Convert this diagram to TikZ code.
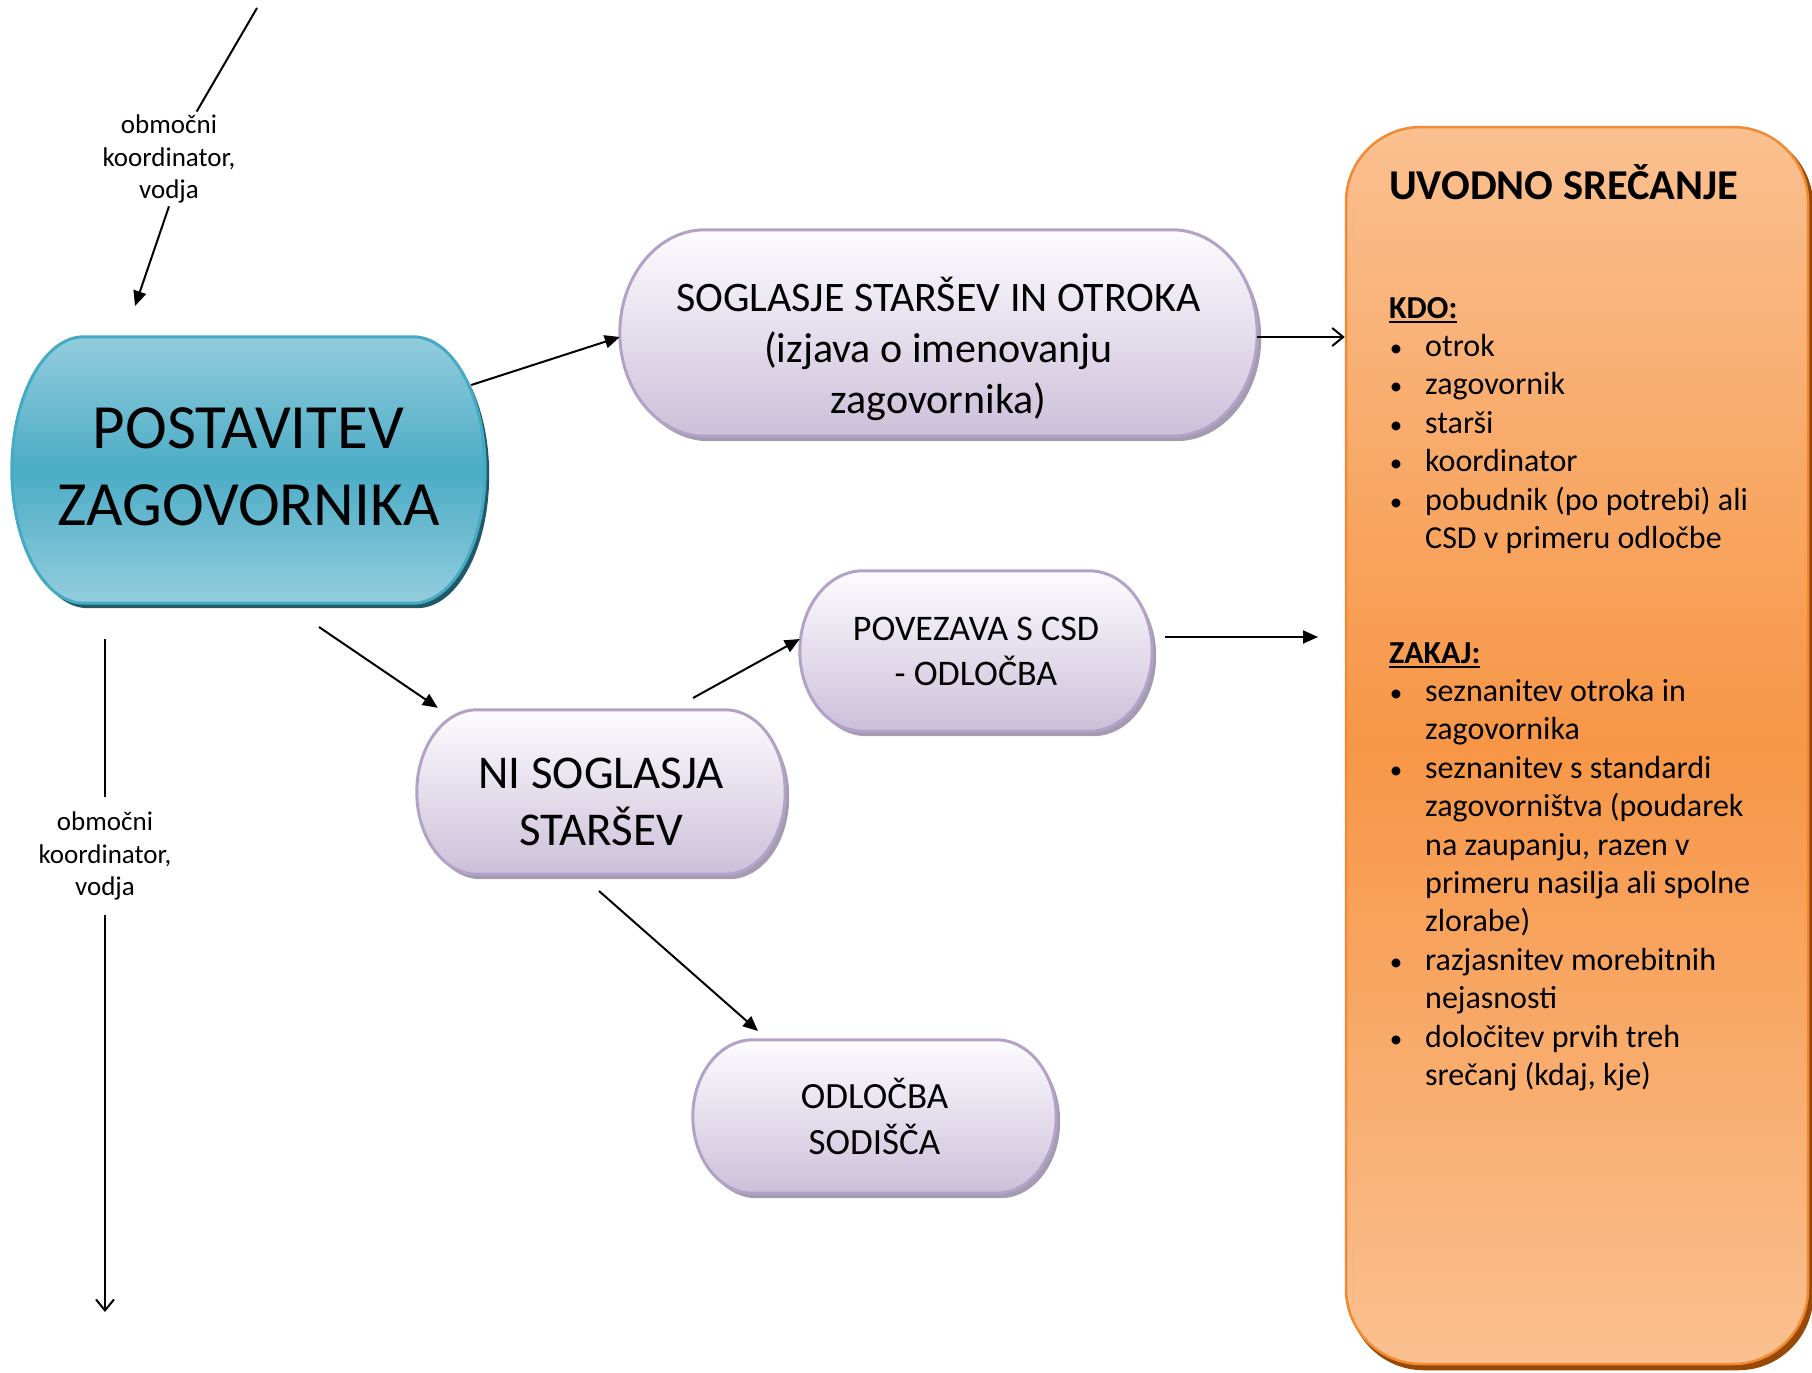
\documentclass[tikz,border=0pt]{standalone}
\usepackage{fontspec}
\setmainfont{Carlito}
\usetikzlibrary{arrows.meta,calc,backgrounds}

\definecolor{tealtop}{HTML}{93CDDD}
\definecolor{tealmid}{HTML}{4BACC6}
\definecolor{tealline}{HTML}{46AAC5}
\definecolor{tealshadow}{HTML}{215968}
\definecolor{lilactop}{HTML}{FDFCFE}
\definecolor{lilacbot}{HTML}{CCC0DA}
\definecolor{lilacline}{HTML}{B3A2C7}
\definecolor{lilacshadow}{HTML}{A49CAE}
\definecolor{orangelight}{HTML}{FAC090}
\definecolor{orangemid}{HTML}{F79646}
\definecolor{orangeline}{HTML}{F28A34}
\definecolor{orangeshadow}{HTML}{984807}

% box with elliptical ends, drawn from the anchors of a node (node, x radius, shift, style)
\newcommand\pillbox[4]{%
  \path[#4] let \p1=([shift={(#3)}]#1.north west), \p2=([shift={(#3)}]#1.south east),
    \n1={(\y1-\y2)/2} in
    (\x1+#2,\y1) -- (\x2-#2,\y1)
    arc[start angle=90, end angle=-90, x radius=#2, y radius=\n1]
    -- (\x1+#2,\y2)
    arc[start angle=270, end angle=90, x radius=#2, y radius=\n1] -- cycle;
}
% thick underline for the headings
\newcommand\hdunder[1]{\setbox0=\hbox{#1}\rlap{\rule[-5pt]{\wd0}{2.5pt}}\box0}

\tikzset{
  pillnode/.style={align=center, inner sep=0pt},
  note/.style={align=center, inner sep=3pt, font=\fontsize{27pt}{32.5pt}\selectfont},
  line/.style={line width=2pt},
  arrow/.style={line width=2pt, -{Triangle[length=15pt, width=13pt]}},
  openarrow/.style={line width=2pt, -{Straight Barb[length=11pt, width=18pt]}},
  agendabox/.style={rounded corners=75pt, minimum width=462pt, minimum height=1237pt,
    draw=orangeline, line width=2.5pt, top color=orangelight, bottom color=orangelight,
    middle color=orangemid},
  title/.style={anchor=base west, inner sep=0pt, font=\fontsize{42.5pt}{50pt}\selectfont\bfseries},
  heading/.style={anchor=base west, inner sep=0pt, font=\fontsize{32pt}{38pt}\selectfont\bfseries},
  item/.style={anchor=base west, inner sep=0pt, font=\fontsize{32pt}{38pt}\selectfont},
  dot/.style={anchor=base, inner sep=0pt, font=\fontsize{25pt}{30pt}\selectfont}
}

\begin{document}
\begin{tikzpicture}[x=1pt, y=-1pt]
    \useasboundingbox (0,0) rectangle (1812,1373);
    \def\lead{38.4}

    % Right panel
    \node[agendabox] (uvodno) at (1577,745.5) {};
    \node[title] (uvodnotitle) at (1389,199) {UVODNO SREČANJE};

    % KDO list
    \node[heading] (kdo) at (1389,318) {\hdunder{KDO:}};
    \foreach \n/\txt in {1/otrok, 2/zagovornik, 3/starši, 4/koordinator,
        5/{pobudnik (po potrebi) ali}, 6/{CSD v primeru odločbe}}
        \node[item] (kdo\n) at (1425,318+\lead*\n) {\txt};
    \foreach \n in {1,...,5}
        \node[dot] (kdodot\n) at (1396,318+\lead*\n) {\textbullet};

    % ZAKAJ list
    \node[heading] (zakaj) at (1389,663) {\hdunder{ZAKAJ:}};
    \foreach \n/\txt in {1/{seznanitev otroka in}, 2/zagovornika, 3/{seznanitev s standardi},
        4/{zagovorništva (poudarek}, 5/{na zaupanju, razen v}, 6/{primeru nasilja ali spolne},
        7/{zlorabe)}, 8/{razjasnitev morebitnih}, 9/nejasnosti, 10/{določitev prvih treh},
        11/{srečanj (kdaj, kje)}}
        \node[item] (zakaj\n) at (1425,663+\lead*\n) {\txt};
    \foreach \n in {1,3,8,10}
        \node[dot] (zakajdot\n) at (1396,663+\lead*\n) {\textbullet};

    % Steps
    \node[pillnode, minimum width=473pt, minimum height=266pt, font=\fontsize{63pt}{77pt}\selectfont]
        (postavitev) at (248.5,466.5) {POSTAVITEV\\ZAGOVORNIKA};
    \node[pillnode, minimum width=637pt, minimum height=206pt, font=\fontsize{42pt}{51pt}\selectfont]
        (soglasje) at (938.5,349) {SOGLASJE STARŠEV IN OTROKA\\(izjava o imenovanju\\zagovornika)};
    \node[pillnode, minimum width=352pt, minimum height=160pt, font=\fontsize{36pt}{45pt}\selectfont]
        (povezava) at (976,651) {POVEZAVA S CSD\\- ODLOČBA};
    \node[pillnode, minimum width=368pt, minimum height=164pt, font=\fontsize{47pt}{57pt}\selectfont]
        (ni) at (601,802) {NI SOGLASJA\\STARŠEV};
    \node[pillnode, minimum width=363pt, minimum height=153pt, font=\fontsize{37pt}{46pt}\selectfont]
        (odlocba) at (874.5,1116.5) {ODLOČBA\\SODIŠČA};

    \begin{scope}[on background layer]
        % shadow of the right panel
        \path[fill=orangeshadow, rounded corners=75pt] ([shift={(4pt,-5pt)}]uvodno.south west)
            rectangle ([shift={(4pt,-5pt)}]uvodno.north east);
        \foreach \nd/\rad/\dy in {soglasje/85/16, povezava/63/0, ni/60/10, odlocba/60/0} {
            \pillbox{\nd}{\rad pt}{4pt,\dy pt-5pt}{fill=lilacshadow}
            \pillbox{\nd}{\rad pt}{0pt,\dy pt}{draw=lilacline, line width=3pt,
                top color=lilactop, bottom color=lilacbot}
        }
        \pillbox{postavitev}{72pt}{4pt,-8.5pt}{fill=tealshadow}
        \pillbox{postavitev}{72pt}{0pt,-3.5pt}{draw=tealline, line width=3pt, top color=tealtop,
            bottom color=tealtop, middle color=tealmid}
    \end{scope}

    % Labels on the side lines
    \node[note] (toplabel) at (169,159) {območni\\koordinator,\\vodja};
    \node[note, inner ysep=15pt] (leftlabel) at (105,856) {območni\\koordinator,\\vodja};

    % Free ends
    \coordinate (topin) at (257,8);
    \coordinate (topout) at (135,306);
    \coordinate (leftin) at (105,639);
    \coordinate (leftout) at (105,1312);
    \coordinate (splitdown) at (319,627);
    \coordinate (nitop) at (693,698);
    \coordinate (csdout) at (1318,637);
    \coordinate (nibottom) at (599,891);
    \coordinate (odlin) at (758,1031);

    % Connectors
    \draw[line] (topin) -- (toplabel);
    \draw[arrow] (toplabel.south) -- (topout);
    \draw[line] (leftin) -- (leftlabel);
    \draw[openarrow] (leftlabel) -- (leftout);
    \draw[arrow] ([shift={(-14,-81.5)}]postavitev.east) -- ([yshift=12pt]soglasje.west);
    \draw[openarrow] ([yshift=12pt]soglasje.east) -- ([yshift=12pt]soglasje.east -| uvodno.west);
    \draw[arrow] (splitdown) -- ([shift={(21,-12)}]ni.north west);
    \draw[arrow] (nitop) -- ([yshift=12pt]povezava.west);
    \draw[arrow, shorten <=13pt] (povezava.east |- csdout) -- (csdout);
    \draw[arrow] (nibottom) -- (odlin);
\end{tikzpicture}
\end{document}
